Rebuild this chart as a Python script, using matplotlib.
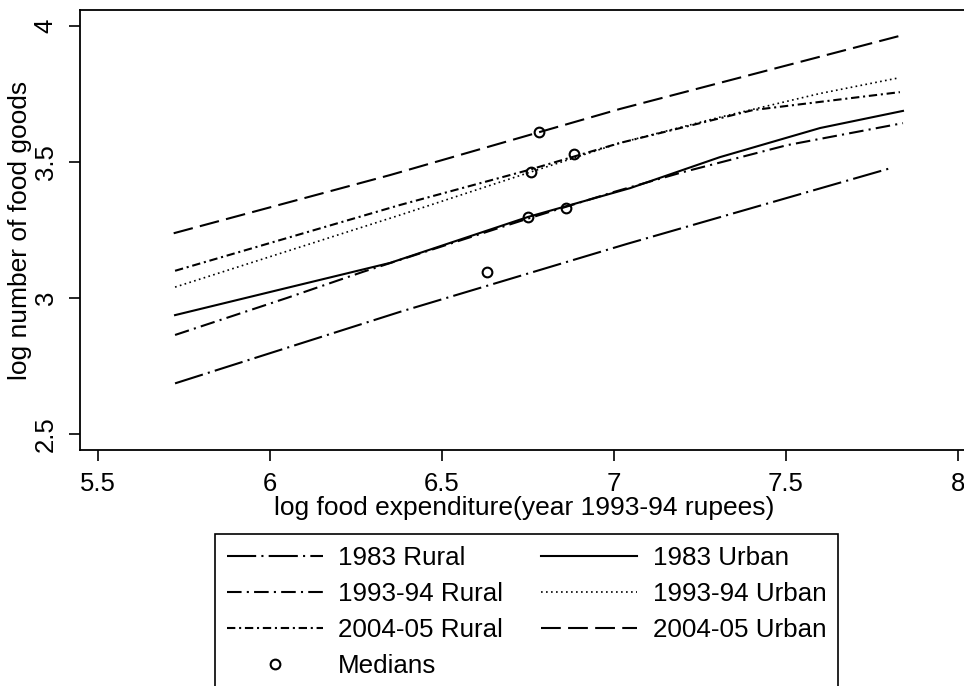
import numpy as np
import matplotlib
matplotlib.use('Agg')
import matplotlib.pyplot as plt
from matplotlib.lines import Line2D

plt.rcParams['font.family'] = ['Liberation Sans', 'DejaVu Sans']

# fitted curves, log food expenditure vs log number of food goods
x_r83 = [5.724, 6.378, 7.038, 7.811]
y_r83 = [2.686, 2.949, 3.199, 3.480]

x_u83 = [5.724, 6.049, 6.349, 6.750, 7.047, 7.308, 7.599, 7.840]
y_u83 = [2.937, 3.037, 3.129, 3.298, 3.404, 3.518, 3.625, 3.688]

x_r93 = [5.724, 6.049, 6.270, 6.750, 7.000, 7.192, 7.503, 7.840]
y_r93 = [2.864, 3.000, 3.096, 3.292, 3.390, 3.460, 3.562, 3.643]

x_u93 = [5.724, 6.378, 6.750, 7.017, 7.308, 7.599, 7.826]
y_u93 = [3.040, 3.305, 3.460, 3.570, 3.665, 3.752, 3.809]

x_r04 = [5.724, 6.378, 6.750, 7.017, 7.404, 7.831]
y_r04 = [3.100, 3.342, 3.470, 3.570, 3.691, 3.757]

x_u04 = [5.720, 6.349, 7.017, 7.840]
y_u04 = [3.238, 3.452, 3.695, 3.967]

# medians
med_x = [6.631, 6.750, 6.860, 6.759, 6.884, 6.782]
med_y = [3.096, 3.298, 3.331, 3.463, 3.529, 3.610]

fig = plt.figure(figsize=(9.64, 6.86), dpi=100)
ax = fig.add_axes([80/964, 1 - 450/686, (968 - 80)/964, 440/686])

lw = 1.5
l_r83, = ax.plot(x_r83, y_r83, color='black', lw=lw, dashes=(14, 2.5, 1, 2.5))
l_u83, = ax.plot(x_u83, y_u83, color='black', lw=lw, ls='-')
l_r93, = ax.plot(x_r93, y_r93, color='black', lw=lw, dashes=(7, 2.5, 1, 2.5))
l_u93, = ax.plot(x_u93, y_u93, color='black', lw=1.2, dashes=(1, 2))
l_r04, = ax.plot(x_r04, y_r04, color='black', lw=lw, dashes=(4, 1.8, 1, 1.8))
l_u04, = ax.plot(x_u04, y_u04, color='black', lw=lw, dashes=(9.5, 3.5))
meds, = ax.plot(med_x, med_y, ls='none', marker='o', ms=7, mfc='none',
                mec='black', mew=1.5)

ax.set_xlim(5.4477, 8.029)
ax.set_ylim(2.441, 4.059)
ax.set_xticks([5.5, 6, 6.5, 7, 7.5, 8])
ax.set_xticklabels(['5.5', '6', '6.5', '7', '7.5', '8'])
ax.set_yticks([2.5, 3, 3.5, 4])
ax.set_yticklabels(['2.5', '3', '3.5', '4'], rotation=90, va='center')

for s in ax.spines.values():
    s.set_linewidth(1.3)
ax.tick_params(direction='out', length=8, width=1.2, labelsize=18.5, pad=8)

ax.set_xlabel('log food expenditure(year 1993-94 rupees)', fontsize=19, labelpad=0)
ax.set_ylabel('log number of food goods', fontsize=19, labelpad=1)

handles = [l_r83, l_r93, l_r04, meds, l_u83, l_u93, l_u04]
labels = ['1983 Rural', '1993-94 Rural', '2004-05 Rural', 'Medians',
          '1983 Urban', '1993-94 Urban', '2004-05 Urban']
leg = fig.legend(handles, labels, loc='upper left',
                 bbox_to_anchor=(215/964, 1 - 534/686), borderaxespad=0,
                 ncol=2, fontsize=18.7, frameon=True, fancybox=False,
                 edgecolor='black', framealpha=1, borderpad=0.45,
                 handlelength=3.7, handletextpad=0.6, columnspacing=1.45,
                 labelspacing=0.47)
leg.get_frame().set_linewidth(1.2)

fig.savefig('out.png', dpi=100)
